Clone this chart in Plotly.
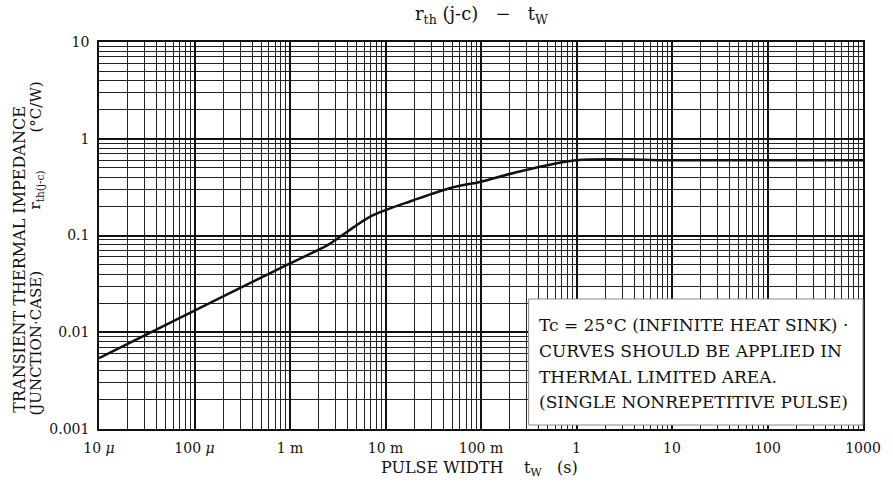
import plotly.graph_objects as go

# ---------------- data ----------------
pulse_width_s = [1e-5, 1e-4, 1e-3, 2.5e-3, 3.8e-3, 7e-3, 2e-2, 4.8e-2, 0.1, 0.22, 1.0, 10, 100, 1000]
rth_jc = [0.0054, 0.0167, 0.0515, 0.080, 0.106, 0.158, 0.233, 0.31, 0.36, 0.443, 0.60, 0.60, 0.60, 0.60]

x_tickvals = [1e-5, 1e-4, 1e-3, 1e-2, 1e-1, 1, 10, 100, 1000]
x_ticktext = ["10 <i>μ</i>", "100 <i>μ</i>", "1 m", "10 m", "100 m", "1", "10", "100", "1000"]
y_tickvals = [0.001, 0.01, 0.1, 1, 10]
y_ticktext = ["0.001", "0.01", "0.1", "1", "10"]

note_lines = [
    "Tc = 25°C (INFINITE HEAT SINK) ·",
    "CURVES SHOULD BE APPLIED IN",
    "THERMAL LIMITED AREA.",
    "(SINGLE NONREPETITIVE PULSE)",
]

# ---------------- layout geometry (pixels) ----------------
W, H = 893, 492
L, R, T, B = 99, 869, 42, 429
FONT = "DejaVu Serif"
INK = "#111111"


def px_x(px):
    return (px - L) / (R - L)


def px_y(py):
    return (B - py) / (B - T)


fig = go.Figure()
fig.add_trace(go.Scatter(
    x=pulse_width_s, y=rth_jc, mode="lines",
    line=dict(color=INK, width=2.5, shape="spline", smoothing=0.9),
    showlegend=False, hoverinfo="x+y",
))

axis_common = dict(
    type="log",
    showline=True, linecolor=INK, linewidth=1.5, mirror=True,
    showgrid=True, gridcolor=INK, gridwidth=2,
    ticks="", zeroline=False,
    tickfont=dict(family=FONT, size=14, color=INK),
    minor=dict(dtick="D1", showgrid=True, gridcolor="#222222", gridwidth=1, ticks=""),
)

fig.update_xaxes(
    **axis_common,
    range=[-5, 3],
    tickvals=x_tickvals, ticktext=x_ticktext,
    ticklabelstandoff=5,
)
fig.update_yaxes(
    **axis_common,
    range=[-3, 1],
    tickvals=y_tickvals, ticktext=y_ticktext,
    ticklabelstandoff=5,
)

shapes = [
    dict(type="rect", xref="paper", yref="paper",
         x0=px_x(532), x1=1.0, y0=px_y(425), y1=px_y(299),
         fillcolor="white", line=dict(color="#8a8a8a", width=1), layer="above"),
]

annotations = []
# title
annotations.append(dict(
    text="r<sub>th</sub> (j-c) \u00a0\u00a0−\u00a0\u00a0 t<sub>W</sub>",
    xref="paper", yref="paper", x=px_x(485), y=px_y(15),
    xanchor="center", yanchor="middle", showarrow=False,
    font=dict(family=FONT, size=18, color=INK),
))
# x axis title
annotations.append(dict(
    text="PULSE WIDTH\u00a0\u00a0\u00a0 t<sub>W</sub>\u00a0\u00a0\u00a0(s)",
    xref="paper", yref="paper", x=px_x(482), y=px_y(468),
    xanchor="center", yanchor="middle", showarrow=False,
    font=dict(family=FONT, size=16, color=INK),
))
# y axis titles (rotated)
annotations.append(dict(
    text="TRANSIENT THERMAL IMPEDANCE",
    xref="paper", yref="paper", x=px_x(18), y=px_y(260),
    xanchor="center", yanchor="middle", showarrow=False, textangle=-90,
    font=dict(family=FONT, size=16, color=INK),
))
annotations.append(dict(
    text="(JUNCTION·CASE)",
    xref="paper", yref="paper", x=px_x(36), y=px_y(343),
    xanchor="center", yanchor="middle", showarrow=False, textangle=-90,
    font=dict(family=FONT, size=15, color=INK),
))
annotations.append(dict(
    text="r<sub>th(j-c)</sub>",
    xref="paper", yref="paper", x=px_x(35), y=px_y(190),
    xanchor="center", yanchor="middle", showarrow=False, textangle=-90,
    font=dict(family=FONT, size=15, color=INK),
))
annotations.append(dict(
    text="(°C/W)",
    xref="paper", yref="paper", x=px_x(36), y=px_y(107),
    xanchor="center", yanchor="middle", showarrow=False, textangle=-90,
    font=dict(family=FONT, size=15, color=INK),
))
# note box text
note_y = [325, 351, 377, 402]
for line, yy in zip(note_lines, note_y):
    annotations.append(dict(
        text=line, xref="paper", yref="paper", x=px_x(540), y=px_y(yy),
        xanchor="left", yanchor="middle", showarrow=False,
        font=dict(family=FONT, size=17, color=INK),
    ))

fig.update_layout(
    width=W, height=H,
    margin=dict(l=L, r=W - R, t=T, b=H - B),
    paper_bgcolor="white", plot_bgcolor="white",
    shapes=shapes, annotations=annotations,
    showlegend=False,
)

fig.write_html(
    "out.html",
    config={"displayModeBar": False},
    post_script="document.body.style.margin='0';document.body.style.overflow='hidden';",
)
